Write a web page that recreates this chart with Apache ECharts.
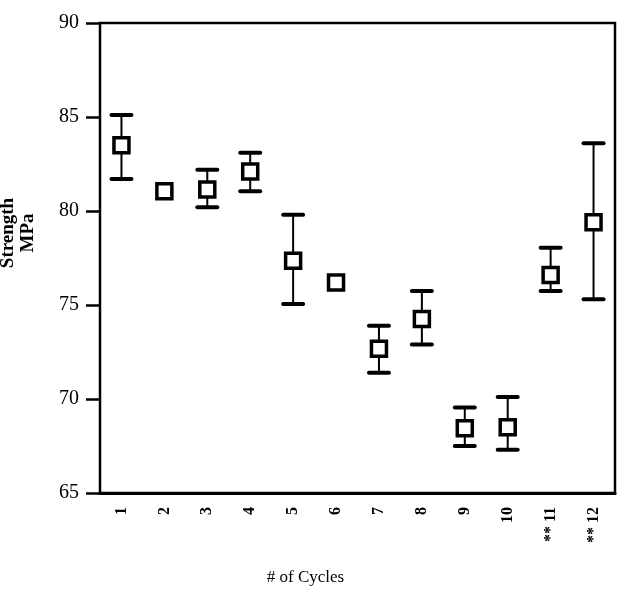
<!DOCTYPE html>
<html>
<head>
<meta charset="utf-8">
<script src="https://cdn.jsdelivr.net/npm/echarts@6/dist/echarts.min.js"></script>
<style>html,body{margin:0;padding:0;background:#fff}#c{width:624px;height:599px}</style>
</head>
<body>
<div id="c"></div>
<script>
const categories = ['1','2','3','4','5','6','7','8','9','10','** 11','** 12'];
const means = [83.5, 81.05, 81.15, 82.1, 77.35, 76.2, 72.67, 74.25, 68.44, 68.5, 76.6, 79.4];
const upper = [85.1, null, 82.2, 83.1, 79.8, null, 73.9, 75.75, 69.55, 70.1, 78.05, 83.6];
const lower = [81.7, null, 80.2, 81.05, 75.05, null, 71.4, 72.9, 67.5, 67.3, 75.75, 75.3];
const yTicks = [65, 70, 75, 80, 85, 90];

const errData = categories.map((c, i) => [i, lower[i], upper[i]]).filter(d => d[1] != null);

const chart = echarts.init(document.getElementById('c'));
const font = '"Liberation Serif", "DejaVu Serif", serif';
chart.setOption({
  animation: false,
  backgroundColor: '#fff',
  grid: { left: 100, right: 9, top: 23, bottom: 106, show: true, borderColor: '#000', borderWidth: 2.5, containLabel: false, outerBoundsMode: 'none' },
  xAxis: {
    type: 'category',
    data: categories,
    boundaryGap: true,
    name: '# of Cycles',
    nameLocation: 'middle',
    nameGap: 76,
    nameTextStyle: { fontFamily: font, fontSize: 17, color: '#000', padding: [0, 104, 0, 0] },
    axisLine: { lineStyle: { color: '#000', width: 3 } },
    axisTick: { alignWithLabel: true, length: 10, lineStyle: { color: '#000', width: 2 } },
    axisLabel: { rotate: 90, margin: 14, fontFamily: font, fontSize: 16, fontWeight: 'bold', color: '#000' },
    splitLine: { show: false }
  },
  yAxis: {
    type: 'value',
    min: 65, max: 90, interval: 5,
    name: 'Strength\nMPa',
    nameLocation: 'middle',
    nameGap: 62,
    nameTextStyle: { fontFamily: font, fontSize: 19, fontWeight: 'bold', color: '#000', lineHeight: 20, padding: [0, 0, 0, 50] },
    axisLine: { show: true, lineStyle: { color: '#000', width: 2 } },
    axisTick: { show: true, length: 14, lineStyle: { color: '#000', width: 2.5 } },
    axisLabel: { margin: 21, fontFamily: font, fontSize: 20, color: '#000', formatter: v => yTicks.includes(v) ? String(v) : '' },
    splitLine: { show: false }
  },
  series: [
    {
      type: 'custom',
      data: errData,
      z: 2,
      renderItem: function (params, api) {
        const x = api.value(0);
        const lo = api.coord([x, api.value(1)]);
        const hi = api.coord([x, api.value(2)]);
        const hw = 10;
        return {
          type: 'group',
          children: [
            { type: 'line', shape: { x1: lo[0], y1: lo[1], x2: hi[0], y2: hi[1] }, style: { stroke: '#000', lineWidth: 2 } },
            { type: 'line', shape: { x1: lo[0] - hw, y1: lo[1], x2: lo[0] + hw, y2: lo[1] }, style: { stroke: '#000', lineWidth: 4, lineCap: 'round' } },
            { type: 'line', shape: { x1: hi[0] - hw, y1: hi[1], x2: hi[0] + hw, y2: hi[1] }, style: { stroke: '#000', lineWidth: 4, lineCap: 'round' } }
          ]
        };
      }
    },
    {
      type: 'scatter',
      data: means,
      z: 3,
      symbol: 'rect',
      symbolSize: [15, 15],
      itemStyle: { color: '#fff', borderColor: '#000', borderWidth: 3.5, opacity: 1 }
    }
  ]
});
</script>
</body>
</html>
